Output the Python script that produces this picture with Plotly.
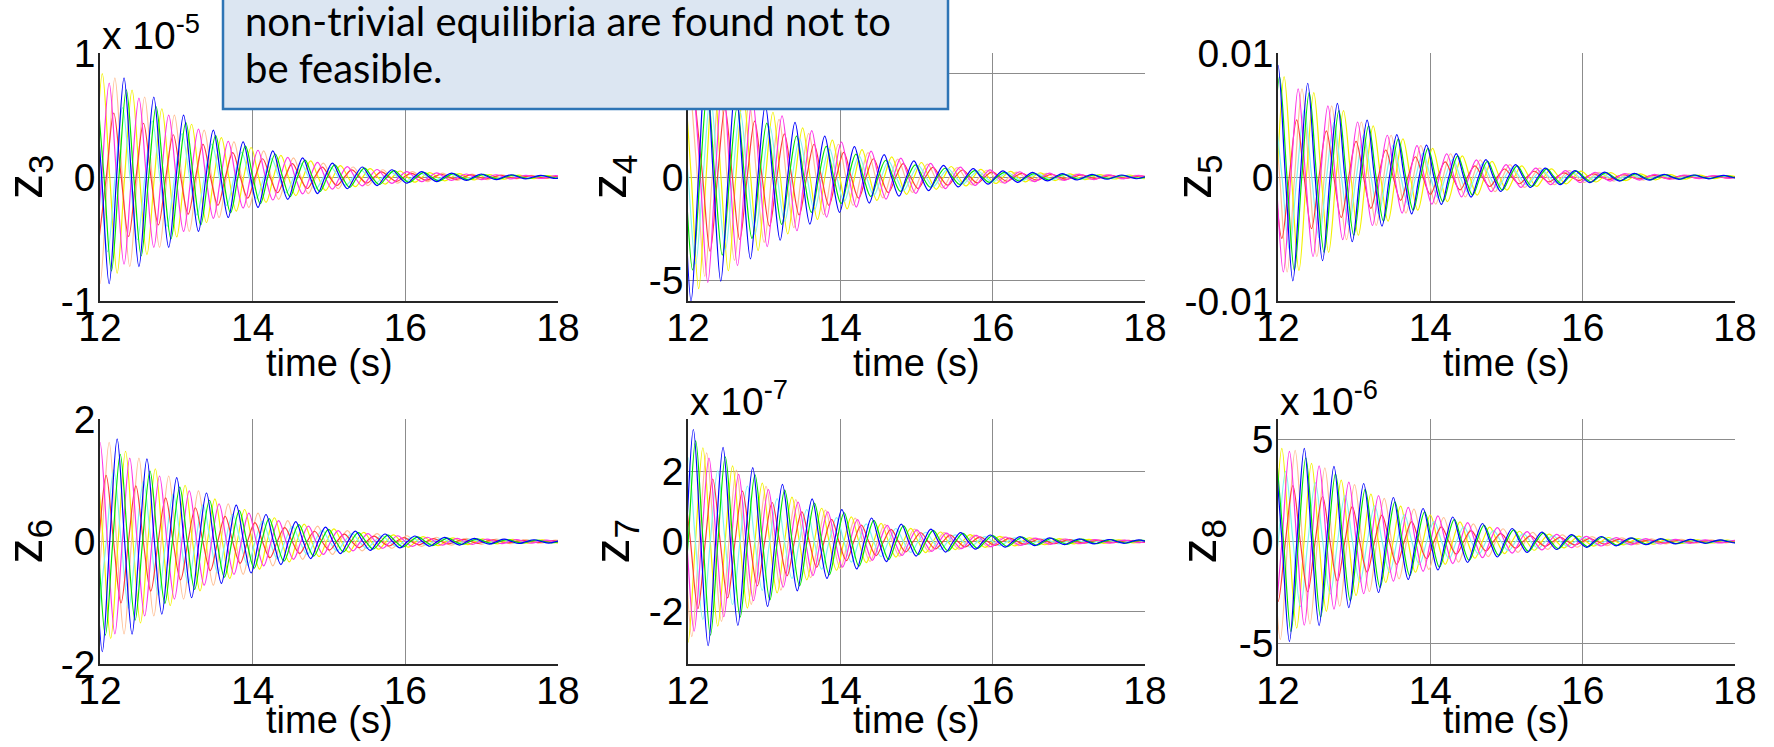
import plotly.graph_objects as go

W, H = 1774, 747

# ---------------- data ----------------
x_ticks = [12, 14, 16, 18]
half_period = 0.195          # time between successive extrema (s)

series_names = ["peach", "yellow", "cyan", "red", "magenta", "green", "blue"]
series_colors = ["#ffbf94", "#f2f200", "#7ff5f0", "#ff3b3b", "#ff33e6", "#00e600", "#0000ff"]

# outer envelope of successive extrema, normalised to the first one
decay_profile = [1.00, 0.93, 0.84, 0.75, 0.66, 0.58, 0.51, 0.44, 0.38, 0.33, 0.285,
                 0.245, 0.21, 0.18, 0.155, 0.13, 0.11, 0.094, 0.08, 0.068, 0.058,
                 0.05, 0.043, 0.037, 0.032, 0.028, 0.024, 0.021, 0.018, 0.016,
                 0.014, 0.012, 0.011, 0.010]

# per panel: first-extremum amplitude, then per series (order of series_names):
# time of first extremum, its sign, relative amplitude
z3_peak = 0.86
z3_t0 = [12.00, 12.03, 12.10, 12.18, 12.12, 12.15, 12.12]
z3_sign = [-1, 1, -1, 1, 1, -1, -1]
z3_rel = [1.00, 0.97, 0.70, 0.60, 0.88, 0.88, 1.00]

z4_peak = 6.0
z4_t0 = [12.22, 12.14, 12.10, 12.29, 12.26, 12.06, 12.04]
z4_sign = [-1, -1, -1, -1, -1, -1, -1]
z4_rel = [0.80, 0.90, 0.70, 0.60, 0.85, 0.75, 1.00]

z5_peak = 0.0090
z5_t0 = [12.12, 12.08, 12.15, 12.05, 12.07, 12.02, 12.00]
z5_sign = [-1, 1, -1, -1, -1, 1, 1]
z5_rel = [0.85, 0.90, 0.65, 0.55, 0.85, 0.90, 1.00]

z6_peak = 1.8
z6_t0 = [12.12, 12.14, 12.18, 12.08, 12.00, 12.07, 12.03]
z6_sign = [1, -1, 1, 1, 1, -1, -1]
z6_rel = [0.90, 0.88, 0.65, 0.60, 0.90, 0.85, 1.00]

z7_peak = 3.2
z7_t0 = [12.05, 12.00, 12.00, 12.13, 12.08, 12.10, 12.07]
z7_sign = [-1, -1, 1, -1, -1, 1, 1]
z7_rel = [0.85, 0.90, 0.75, 0.60, 0.80, 0.90, 1.00]

z8_peak = 4.9
z8_t0 = [12.03, 12.05, 12.10, 12.00, 12.15, 12.17, 12.15]
z8_sign = [-1, 1, 1, -1, 1, -1, -1]
z8_rel = [0.98, 0.93, 0.70, 0.60, 0.90, 0.90, 1.00]

panel_labels = ["z<sub>3</sub>", "z<sub>4</sub>", "z<sub>5</sub>",
                "z<sub>6</sub>", "z<sub>7</sub>", "z<sub>8</sub>"]
y_ranges = [[-1, 1], [-6, 6], [-0.01, 0.01], [-2, 2], [-3.5, 3.5], [-6, 6]]
y_ticks = [[-1, 0, 1], [-5, 0, 5], [-0.01, 0, 0.01], [-2, 0, 2], [-2, 0, 2], [-5, 0, 5]]
y_ticktext = [["-1", "0", "1"], ["-5", "0", "5"], ["-0.01", "0", "0.01"],
              ["-2", "0", "2"], ["-2", "0", "2"], ["-5", "0", "5"]]
exponent_text = ["x 10<sup>-5</sup>", None, None, None, "x 10<sup>-7</sup>", "x 10<sup>-6</sup>"]

note_lines = ["non-trivial equilibria are found not to", "be feasible."]

panels = [
    (z3_peak, z3_t0, z3_sign, z3_rel),
    (z4_peak, z4_t0, z4_sign, z4_rel),
    (z5_peak, z5_t0, z5_sign, z5_rel),
    (z6_peak, z6_t0, z6_sign, z6_rel),
    (z7_peak, z7_t0, z7_sign, z7_rel),
    (z8_peak, z8_t0, z8_sign, z8_rel),
]

# ---------------- layout geometry (pixels) ----------------
col_x = [(100, 558), (688, 1145), (1278, 1735)]
row_y = [(53, 301), (419, 664)]
xlabel_offset = [62, 56]
ylabel_offset = [72, 76, 81, 72, 73, 76]

def px(x):
    return x / W

def py(y):
    return 1 - y / H

fig = go.Figure()
font_tick = dict(family="Liberation Sans, Arial, sans-serif", size=39, color="black")
font_xlab = dict(family="Liberation Sans, Arial, sans-serif", size=38, color="black")
font_ylab = dict(family="Liberation Sans, Arial, sans-serif", size=50, color="black")

annotations = []
for i, (peak, t0s, signs, rels) in enumerate(panels):
    r, c = divmod(i, 3)
    xl, xr = col_x[c]
    yt, yb = row_y[r]
    xa = "x" if i == 0 else f"x{i+1}"
    ya = "y" if i == 0 else f"y{i+1}"
    for name, color, t0, sg, rel in zip(series_names, series_colors, t0s, signs, rels):
        ts, vs = [], []
        for k in range(-1, len(decay_profile)):
            tk = t0 + k * half_period
            amp = peak * rel * decay_profile[max(k, 0)]
            ts.append(tk)
            vs.append(sg * (-1) ** k * amp)
            ts.append(tk + half_period / 2)
            vs.append(0.0)
        fig.add_trace(go.Scatter(x=ts, y=vs, mode="lines", xaxis=xa, yaxis=ya,
                                 line=dict(color=color, width=1.2, shape="spline", smoothing=1.0),
                                 showlegend=False, hoverinfo="skip", name=name))
    xkey = "xaxis" if i == 0 else f"xaxis{i+1}"
    ykey = "yaxis" if i == 0 else f"yaxis{i+1}"
    fig.layout[xkey] = dict(domain=[px(xl), px(xr)], range=[12, 18], anchor=ya,
                            tickvals=x_ticks, ticktext=[str(v) for v in x_ticks],
                            showgrid=True, gridcolor="#8c8c8c", gridwidth=1,
                            showline=True, linecolor="#262626", linewidth=1.5,
                            zeroline=False, ticks="", tickfont=font_tick,
                            automargin=False, ticklabelstandoff=-9)
    fig.layout[ykey] = dict(domain=[py(yb), py(yt)], range=y_ranges[i], anchor=xa,
                            tickvals=y_ticks[i], ticktext=y_ticktext[i],
                            showgrid=True, gridcolor="#8c8c8c", gridwidth=1,
                            showline=True, linecolor="#262626", linewidth=1.5,
                            zeroline=False, ticks="", tickfont=font_tick,
                            automargin=False, ticklabelstandoff=-5)
    # axis titles
    annotations.append(dict(text="time (s)", x=px((xl + xr) / 2), y=py(yb + xlabel_offset[r]),
                            xref="paper", yref="paper", showarrow=False,
                            xanchor="center", yanchor="middle", font=font_xlab))
    annotations.append(dict(text=panel_labels[i], x=px(xl - ylabel_offset[i]), y=py((yt + yb) / 2),
                            xref="paper", yref="paper", showarrow=False, textangle=-90,
                            xanchor="center", yanchor="middle", font=font_ylab))
    if exponent_text[i]:
        annotations.append(dict(text=exponent_text[i], x=px(xl), y=py(yt + 6),
                                xref="paper", yref="paper", showarrow=False,
                                xanchor="left", yanchor="bottom", font=font_tick))

# note box
shapes = [dict(type="rect", xref="paper", yref="paper", x0=px(223), x1=px(948),
               y0=py(109), y1=py(-6), fillcolor="#dce6f2",
               line=dict(color="#2e75b6", width=2.5), layer="above")]
note_font = dict(family="Lato, Carlito, Calibri, sans-serif", size=40, color="black")
for j, line in enumerate(note_lines):
    annotations.append(dict(text=line, x=px(243), y=py(47 + 47 * j), xref="paper", yref="paper",
                            showarrow=False, xanchor="left", yanchor="bottom", font=note_font))

fig.update_layout(template="none", width=W, height=H,
                  margin=dict(l=0, r=0, t=0, b=0, pad=0, autoexpand=False),
                  paper_bgcolor="white", plot_bgcolor="white",
                  shapes=shapes, annotations=annotations, showlegend=False)

fig.write_html("out.html")
